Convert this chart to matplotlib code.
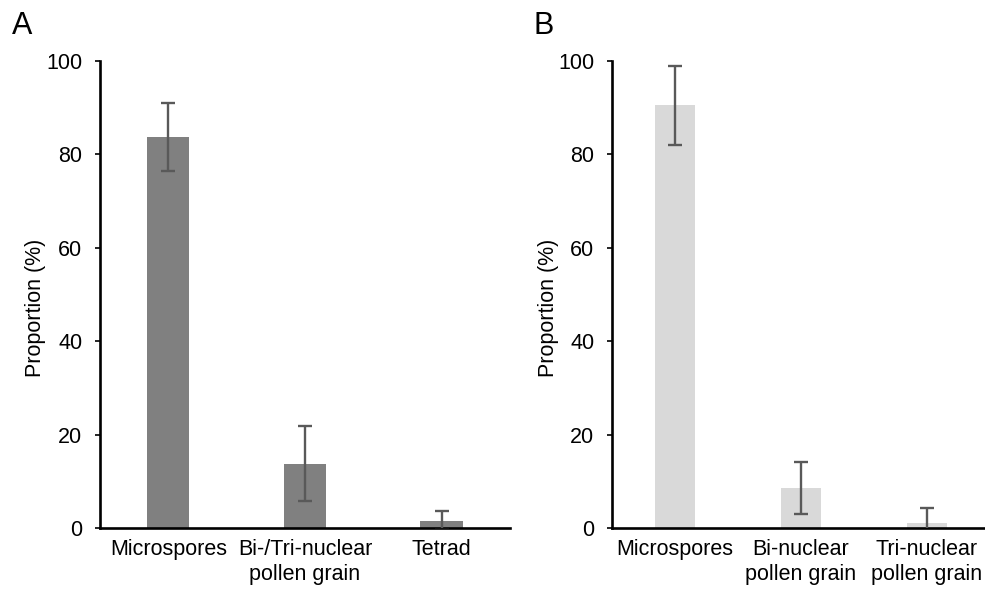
import numpy as np
import matplotlib.pyplot as plt

plt.rcParams['font.family'] = ['Liberation Sans', 'DejaVu Sans']

# panel A
cats_a = ['Microspores', 'Bi-/Tri-nuclear\npollen grain', 'Tetrad']
vals_a = [83.8, 13.8, 1.6]
err_a = [7.3, 8.1, 2.0]

# panel B
cats_b = ['Microspores', 'Bi-nuclear\npollen grain', 'Tri-nuclear\npollen grain']
vals_b = [90.5, 8.6, 1.1]
err_b = [8.4, 5.5, 3.1]

fig = plt.figure(figsize=(9.85, 5.91), dpi=100)
axA = fig.add_axes([0.1015, 0.1066, 0.4162, 0.7902])
axB = fig.add_axes([0.6213, 0.1066, 0.3838, 0.7902])


def panel(ax, cats, vals, errs, color, width, labx):
    x = np.arange(len(cats))
    ax.bar(x, vals, width=width, color=color, zorder=2)
    ax.errorbar(x, vals, yerr=errs, fmt='none', ecolor='#595959',
                elinewidth=1.7, capsize=4.8, capthick=1.7, zorder=3)
    ax.set_xlim(-0.5, len(cats) - 0.5)
    ax.set_ylim(0, 100)
    ax.set_yticks([0, 20, 40, 60, 80, 100])
    ax.set_xticks(x)
    ax.set_xticklabels(cats, fontsize=15.5)
    for lab in ax.get_xticklabels():
        lab.set_linespacing(1.25)
    ax.tick_params(axis='x', length=0, pad=8)
    ax.tick_params(axis='y', direction='out', length=3.6, width=1.2,
                   pad=9, labelsize=15.5)
    for s in ['top', 'right']:
        ax.spines[s].set_visible(False)
    for s in ['left', 'bottom']:
        ax.spines[s].set_linewidth(1.9)
    ax.set_ylabel('Proportion (%)', fontsize=15.5)
    ax.yaxis.set_label_coords(labx, 0.471)


panel(axA, cats_a, vals_a, err_a, '#808080', 0.31, -0.131)
panel(axB, cats_b, vals_b, err_b, '#d9d9d9', 0.315, -0.141)

fig.text(0.012, 0.943, 'A', fontsize=22, va='baseline')
fig.text(0.542, 0.943, 'B', fontsize=22, va='baseline')

fig.savefig('out.png', dpi=100)
